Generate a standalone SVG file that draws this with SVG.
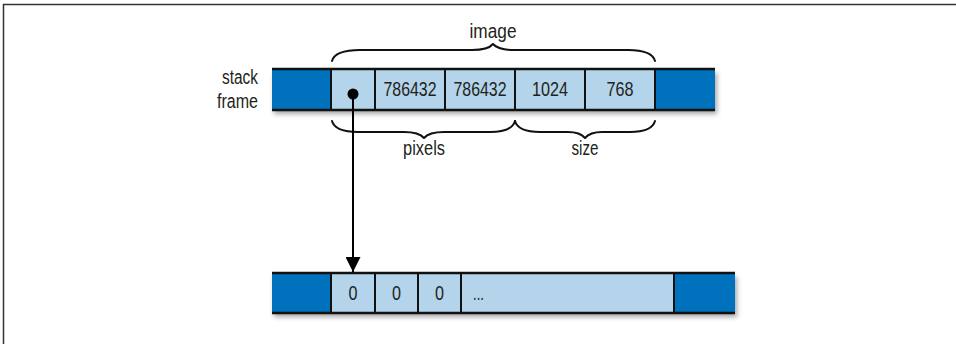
<svg xmlns="http://www.w3.org/2000/svg" width="956" height="344" viewBox="0 0 956 344">
  <defs>
    <style>
      .dark { fill: #0071bc; }
      .light { fill: #b3d4ea; }
      .rule { stroke: #111; stroke-width: 2.5; fill: none; }
      .div { stroke: #111; stroke-width: 2; }
      .brace { stroke: #111; stroke-width: 2; fill: none; stroke-linecap: round; stroke-linejoin: round; }
      .t { font-family: "Liberation Sans", Arial, sans-serif; font-size: 20px; fill: #231f20; }
      .c { text-anchor: middle; }
      .r { text-anchor: end; }
    </style>
    <filter id="shadow" x="-5%" y="-30%" width="115%" height="180%">
      <feDropShadow dx="2" dy="4" stdDeviation="2.5" flood-color="#000" flood-opacity="0.35"/>
    </filter>
    <marker id="arrow" viewBox="0 0 15 15" refX="15" refY="7.5" markerWidth="15" markerHeight="15" markerUnits="userSpaceOnUse" orient="auto">
      <path d="M0,0 L15,7.5 L0,15 Z" fill="#000"/>
    </marker>
  </defs>

  <rect width="956" height="344" fill="#fff"/>
  <path d="M3.5,344 V4.5 H956" stroke="#333" stroke-width="1.5" fill="none"/>

  <g id="stack-frame">
    <g filter="url(#shadow)">
      <rect class="dark" x="272" y="69" width="443" height="41"/>
      <rect class="light" x="331" y="69" width="324" height="41"/>
    </g>
    <line class="div" x1="331" y1="69" x2="331" y2="110"/>
    <line class="div" x1="375" y1="69" x2="375" y2="110"/>
    <line class="div" x1="445" y1="69" x2="445" y2="110"/>
    <line class="div" x1="515" y1="69" x2="515" y2="110"/>
    <line class="div" x1="585" y1="69" x2="585" y2="110"/>
    <line class="div" x1="655" y1="69" x2="655" y2="110"/>
    <line class="rule" x1="272" y1="69" x2="715" y2="69"/>
    <line class="rule" x1="272" y1="110" x2="715" y2="110"/>
    <text class="t c" x="410" y="96" textLength="53" lengthAdjust="spacingAndGlyphs">786432</text>
    <text class="t c" x="480" y="96" textLength="53" lengthAdjust="spacingAndGlyphs">786432</text>
    <text class="t c" x="550" y="96" textLength="36" lengthAdjust="spacingAndGlyphs">1024</text>
    <text class="t c" x="620" y="96" textLength="27" lengthAdjust="spacingAndGlyphs">768</text>
    <circle cx="353" cy="94" r="5.5" fill="#000"/>
  </g>

  <g id="stack-frame-label">
    <text class="t r" x="258" y="84" textLength="36" lengthAdjust="spacingAndGlyphs">stack</text>
    <text class="t r" x="258" y="108" textLength="41" lengthAdjust="spacingAndGlyphs">frame</text>
  </g>

  <g id="image-brace">
    <path class="brace" d="M332,61 Q335,50 360,50 L472,50 Q488,50 493,44 Q498,50 514,50 L628,50 Q652,50 655,61"/>
    <text class="t c" x="493" y="38" textLength="47" lengthAdjust="spacingAndGlyphs">image</text>
  </g>

  <g id="pixels-brace">
    <path class="brace" d="M332,121 Q335,132 358,132 L404,132 Q419,132 424,138 Q429,132 444,132 L490,132 Q512,132 515,121"/>
    <text class="t c" x="424" y="155" textLength="42" lengthAdjust="spacingAndGlyphs">pixels</text>
  </g>

  <g id="size-brace">
    <path class="brace" d="M515,121 Q518,132 540,132 L568,132 Q580,132 585,138 Q590,132 602,132 L630,132 Q652,132 655,121"/>
    <text class="t c" x="585" y="155" textLength="27" lengthAdjust="spacingAndGlyphs">size</text>
  </g>

  <g id="heap-buffer">
    <g filter="url(#shadow)">
      <rect class="dark" x="272" y="273" width="463" height="40"/>
      <rect class="light" x="331" y="273" width="343" height="40"/>
    </g>
    <line class="div" x1="331" y1="273" x2="331" y2="313"/>
    <line class="div" x1="375" y1="273" x2="375" y2="313"/>
    <line class="div" x1="418" y1="273" x2="418" y2="313"/>
    <line class="div" x1="461" y1="273" x2="461" y2="313"/>
    <line class="div" x1="674" y1="273" x2="674" y2="313"/>
    <line class="rule" x1="272" y1="273" x2="735" y2="273"/>
    <line class="rule" x1="272" y1="313" x2="735" y2="313"/>
    <text class="t c" x="353" y="300" textLength="9" lengthAdjust="spacingAndGlyphs">0</text>
    <text class="t c" x="396.5" y="300" textLength="9" lengthAdjust="spacingAndGlyphs">0</text>
    <text class="t c" x="439.5" y="300" textLength="9" lengthAdjust="spacingAndGlyphs">0</text>
    <text class="t" x="473" y="300" textLength="11" lengthAdjust="spacingAndGlyphs">...</text>
  </g>

  <g id="connectors">
    <line x1="353" y1="94" x2="353" y2="272" stroke="#000" stroke-width="2" marker-end="url(#arrow)"/>
  </g>
</svg>
